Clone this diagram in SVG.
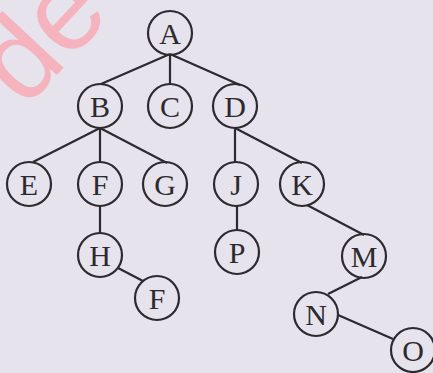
<svg xmlns="http://www.w3.org/2000/svg" width="433" height="373" viewBox="0 0 433 373">
<style>
.n circle{fill:none;stroke:#2b2a2e;stroke-width:2.2}
.n text{font-family:"Liberation Serif","Times New Roman",serif;font-size:30px;fill:#2b2a2e;text-anchor:middle;dominant-baseline:central}
#edges line{stroke:#2b2a2e;stroke-width:2.2}
</style>
<rect width="433" height="373" fill="#e7e3ed"/>
<text x="0" y="0" transform="translate(25,109) rotate(-47)" font-family="Liberation Sans, Arial, sans-serif" font-size="115" fill="#f4b3bd">de</text>
<g id="edges">
<line x1="170" y1="54" x2="101" y2="84"/>
<line x1="170" y1="54" x2="170" y2="84"/>
<line x1="170" y1="54" x2="240" y2="85"/>
<line x1="100" y1="128" x2="33" y2="162"/>
<line x1="100" y1="128" x2="100" y2="162"/>
<line x1="100" y1="128" x2="167" y2="163"/>
<line x1="235" y1="128" x2="235" y2="162"/>
<line x1="235" y1="128" x2="302" y2="163"/>
<line x1="100" y1="206" x2="100" y2="233"/>
<line x1="237" y1="206" x2="237" y2="231"/>
<line x1="307" y1="205" x2="364" y2="235"/>
<line x1="118" y1="268" x2="143" y2="281"/>
<line x1="362" y1="277" x2="328" y2="294"/>
<line x1="338" y1="315" x2="393" y2="339"/>
</g>
<g id="A" class="n"><circle cx="170" cy="33" r="22"/><text x="170" y="33">A</text></g>
<g id="B" class="n"><circle cx="100" cy="106" r="22"/><text x="100" y="106">B</text></g>
<g id="C" class="n"><circle cx="170" cy="106" r="22"/><text x="170" y="106">C</text></g>
<g id="D" class="n"><circle cx="235" cy="106" r="22"/><text x="235" y="106">D</text></g>
<g id="E" class="n"><circle cx="29" cy="184" r="22"/><text x="29" y="184">E</text></g>
<g id="F" class="n"><circle cx="100" cy="184" r="22"/><text x="100" y="184">F</text></g>
<g id="G" class="n"><circle cx="165" cy="184" r="22"/><text x="165" y="184">G</text></g>
<g id="J" class="n"><circle cx="236" cy="184" r="22"/><text x="236" y="184">J</text></g>
<g id="K" class="n"><circle cx="302" cy="184" r="22"/><text x="302" y="184">K</text></g>
<g id="H" class="n"><circle cx="100" cy="255" r="22"/><text x="100" y="255">H</text></g>
<g id="P" class="n"><circle cx="237" cy="252" r="22"/><text x="237" y="252">P</text></g>
<g id="M" class="n"><circle cx="364" cy="256" r="22"/><text x="364" y="256">M</text></g>
<g id="F2" class="n"><circle cx="157" cy="298" r="22"/><text x="157" y="298">F</text></g>
<g id="N" class="n"><circle cx="316" cy="314" r="22"/><text x="316" y="314">N</text></g>
<g id="O" class="n"><circle cx="413" cy="350" r="22"/><text x="413" y="350">O</text></g>
</svg>
